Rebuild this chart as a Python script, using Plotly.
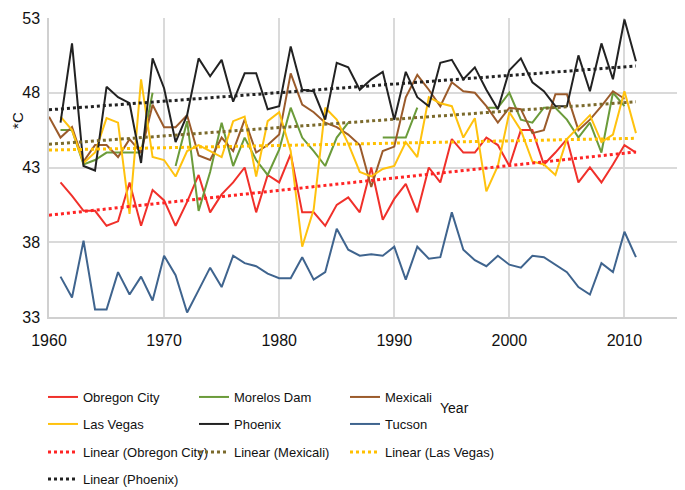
import numpy as np
import plotly.graph_objects as go

years = list(range(1960, 2012))

obregon_city = [None,
                42.0, 41.1, 40.1, 40.1, 39.1, 39.4, 42.0, 39.1, 41.5, 40.8,
                39.1, 40.7, 42.5, 40.0, 41.2, 42.0, 43.0, 40.0, 42.5, 42.0,
                43.9, 40.0, 40.0, 39.1, 40.5, 41.0, 40.0, 43.0, 39.5, 40.9,
                41.9, 40.0, 43.0, 42.0, 44.9, 44.0, 44.0, 45.0, 44.5, 43.1,
                45.5, 45.5, 43.2, 44.0, 44.9, 42.0, 43.0, 42.0, 43.2, 44.5, 44.0]

morelos_dam = [None,
               45.5, 45.5, 43.2, 43.5, 44.0, 44.0, 44.0, 44.0, 48.0, None,
               43.1, 46.1, 40.1, 42.7, 46.0, 43.1, 45.0, 43.5, 42.5, 44.2,
               47.0, 45.0, 44.1, 43.1, 45.0, 46.0, None, None, 45.0, 45.0,
               45.0, 47.0, None, None, None, None, None, 47.0, 47.0, 48.0,
               46.2, 46.0, 47.0, 47.0, 46.2, 45.0, 46.0, 44.0, 48.0, 47.1, None]

mexicali = [46.4,
            45.0, 45.7, 43.4, 44.5, 44.5, 43.7, 44.9, 44.0, 47.2, 45.7,
            45.7, 46.5, 43.8, 43.5, 45.0, 44.1, 46.2, 44.0, 44.5, 45.2,
            49.3, 47.2, 46.7, 46.0, 45.7, 45.2, 44.5, 41.7, 44.1, 44.4,
            47.7, 49.2, 48.2, 47.1, 48.7, 48.1, 48.0, 47.1, 46.0, 47.0,
            46.9, 45.3, 45.5, 47.9, 47.9, 45.5, 46.2, 47.1, 48.1, 47.6, None]

las_vegas = [None,
             46.4, 45.5, 43.3, 44.0, 46.3, 46.0, 39.9, 48.9, 43.7, 43.5,
             42.4, 44.1, 44.5, 44.1, 43.7, 46.1, 46.4, 42.4, 46.1, 46.7,
             44.1, 37.7, 40.2, 47.0, 46.2, 44.6, 42.7, 42.4, 42.9, 43.1,
             44.7, 43.7, 47.7, 47.3, 47.1, 45.0, 46.3, 41.4, 43.1, 46.7,
             45.5, 43.4, 43.2, 42.5, 44.9, 45.7, 46.5, 44.7, 45.2, 48.1, 45.3]

phoenix = [None,
           46.0, 51.3, 43.1, 42.8, 48.4, 47.7, 47.3, 43.3, 50.3, 48.3,
           44.7, 46.5, 50.3, 49.1, 50.2, 47.4, 49.3, 49.3, 46.9, 47.1,
           51.1, 48.2, 48.1, 46.2, 50.0, 49.7, 48.2, 48.9, 49.4, 46.2,
           49.4, 47.7, 47.1, 50.0, 50.2, 48.9, 49.7, 48.2, 46.9, 49.5,
           50.3, 48.7, 48.1, 47.1, 47.1, 50.5, 48.1, 51.3, 48.9, 52.9, 50.1]

tucson = [None,
          35.7, 34.3, 38.1, 33.5, 33.5, 36.0, 34.5, 35.7, 34.1, 37.1,
          35.8, 33.3, 34.8, 36.3, 35.0, 37.1, 36.6, 36.4, 35.9, 35.6,
          35.6, 37.0, 35.5, 36.0, 38.9, 37.5, 37.1, 37.2, 37.1, 37.7,
          35.5, 37.7, 36.9, 37.0, 40.0, 37.5, 36.8, 36.4, 37.1, 36.5,
          36.3, 37.1, 37.0, 36.5, 36.0, 35.0, 34.5, 36.6, 36.0, 38.7, 37.0]

y_ticks = [33, 38, 43, 48, 53]
x_ticks = [1960, 1970, 1980, 1990, 2000, 2010]

FONT = "Liberation Sans, Arial, sans-serif"

series = [
    ("Obregon City", obregon_city, "#f0302a", "row1"),
    ("Morelos Dam", morelos_dam, "#6b9b3a", "row1"),
    ("Mexicali", mexicali, "#9b5b2b", "row1"),
    ("Las Vegas", las_vegas, "#ffc20e", "row2"),
    ("Phoenix", phoenix, "#222222", "row2"),
    ("Tucson", tucson, "#3f648e", "row2"),
]

trends = [
    ("Linear (Obregon City)", obregon_city, "#ff2424", "row3"),
    ("Linear (Mexicali)", mexicali, "#7b6a2c", "row3"),
    ("Linear (Las Vegas)", las_vegas, "#ffc000", "row3"),
    ("Linear (Phoenix)", phoenix, "#222222", "row4"),
]

legend_ids = {"row1": "legend", "row2": "legend2", "row3": "legend3", "row4": "legend4"}


def linear_fit(values):
    xs = np.array([y for y, v in zip(years, values) if v is not None], dtype=float)
    ys = np.array([v for v in values if v is not None], dtype=float)
    slope, intercept = np.polyfit(xs, ys, 1)
    tx = np.array(years, dtype=float)
    return tx, slope * tx + intercept


fig = go.Figure()

for name, values, color, row in series:
    fig.add_trace(go.Scatter(
        x=years, y=values, name=name, mode="lines",
        line=dict(color=color, width=2),
        legend=legend_ids[row],
    ))

for name, values, color, row in trends:
    tx, ty = linear_fit(values)
    fig.add_trace(go.Scatter(
        x=tx, y=ty, name=name, mode="lines",
        line=dict(color=color, width=3, dash="dot"),
        legend=legend_ids[row],
    ))

# the page puts the figure 8px in from the top-left corner
legend_rows = [389, 416, 444, 471]
legend_style = dict(
    orientation="h", xref="container", yref="container",
    x=35 / 685, xanchor="left", yanchor="middle",
    font=dict(family=FONT, size=13, color="#111111"),
    entrywidth=106, entrywidthmode="pixels",
    bgcolor="rgba(0,0,0,0)", itemwidth=30, tracegroupgap=0,
)

fig.update_layout(
    width=685, height=490,
    margin=dict(l=41, r=11, t=10, b=181, autoexpand=False),
    paper_bgcolor="white", plot_bgcolor="white",
    font=dict(family=FONT, size=16, color="#111111"),
    xaxis=dict(
        range=[1960, 2015], tickvals=x_ticks,
        showgrid=True, gridcolor="#dadada", gridwidth=1.5,
        showline=True, linecolor="#d0d0d0", linewidth=1.5,
        ticks="outside", ticklen=8, tickcolor="rgba(0,0,0,0)",
        zeroline=False, tickfont=dict(size=16),
    ),
    yaxis=dict(
        range=[33, 53], tickvals=y_ticks,
        showgrid=True, gridcolor="#dadada", gridwidth=1.5,
        showline=True, linecolor="#d0d0d0", linewidth=1.5,
        ticks="outside", ticklen=4, tickcolor="rgba(0,0,0,0)",
        zeroline=False, tickfont=dict(size=16),
    ),
    legend=dict(legend_style, y=1 - legend_rows[0] / 490),
    legend2=dict(legend_style, y=1 - legend_rows[1] / 490),
    legend3=dict(legend_style, y=1 - legend_rows[2] / 490),
    legend4=dict(legend_style, y=1 - legend_rows[3] / 490),
    annotations=[
        dict(text="*C", xref="paper", yref="paper", x=-0.049, y=0.659,
             xanchor="center", yanchor="middle",
             showarrow=False, textangle=-90, font=dict(size=15)),
        dict(text="Year", xref="paper", yref="paper", x=0.641, y=-0.304,
             xanchor="center", yanchor="middle",
             showarrow=False, font=dict(size=14)),
    ],
)

fig.write_html("out.html")
